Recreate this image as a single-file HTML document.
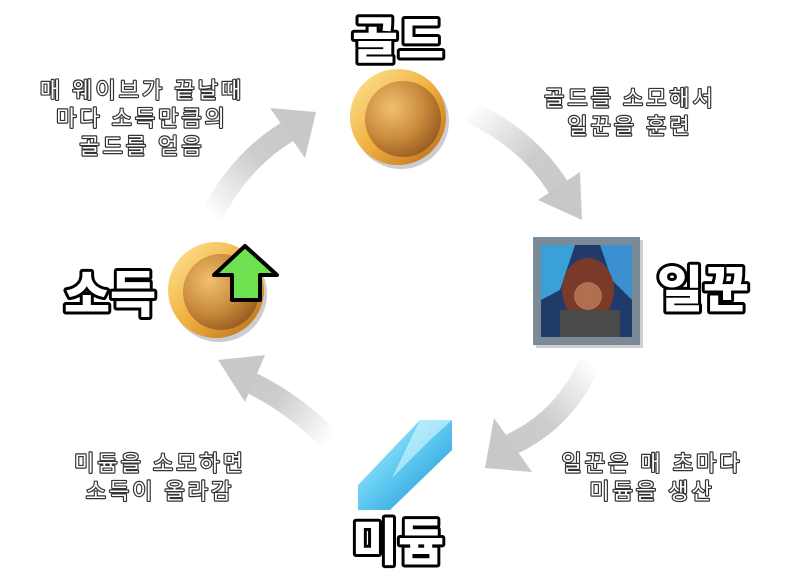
<!DOCTYPE html>
<html><head><meta charset="utf-8"><style>
html,body{margin:0;padding:0;background:#fff;}
svg{display:block;}
.big{font-family:"Liberation Sans","Noto Sans CJK KR",sans-serif;font-weight:900;font-size:50px;fill:#fff;stroke:#000;stroke-width:6px;paint-order:stroke;stroke-linejoin:round;text-anchor:middle;}
.sm{font-family:"Liberation Sans","Noto Sans CJK KR",sans-serif;font-weight:400;font-size:22px;letter-spacing:3px;fill:#fff;stroke:#333;stroke-width:2.4px;paint-order:stroke;stroke-linejoin:round;text-anchor:middle;}
</style></head><body>
<svg width="800" height="579" viewBox="0 0 800 579">
<defs>
<radialGradient id="coin" cx="0.35" cy="0.35" r="0.7">
<stop offset="0" stop-color="#f0c070"/><stop offset="0.6" stop-color="#c98a3c"/><stop offset="1" stop-color="#9a5e22"/></radialGradient>
<linearGradient id="rim" x1="0" y1="0" x2="1" y2="1"><stop offset="0" stop-color="#ffe89a"/><stop offset="0.5" stop-color="#f0b040"/><stop offset="1" stop-color="#b86a18"/></linearGradient>
<linearGradient id="a1" x1="210" y1="215" x2="316" y2="110" gradientUnits="userSpaceOnUse"><stop offset="0" stop-color="#ccc" stop-opacity="0"/><stop offset="0.5" stop-color="#ccc"/><stop offset="1" stop-color="#c8c8c8"/></linearGradient>
<linearGradient id="a2" x1="470" y1="110" x2="580" y2="220" gradientUnits="userSpaceOnUse"><stop offset="0" stop-color="#ccc" stop-opacity="0"/><stop offset="0.5" stop-color="#ccc"/><stop offset="1" stop-color="#c8c8c8"/></linearGradient>
<linearGradient id="a3" x1="590" y1="360" x2="485" y2="470" gradientUnits="userSpaceOnUse"><stop offset="0" stop-color="#ccc" stop-opacity="0"/><stop offset="0.5" stop-color="#ccc"/><stop offset="1" stop-color="#c8c8c8"/></linearGradient>
<linearGradient id="a4" x1="330" y1="440" x2="220" y2="360" gradientUnits="userSpaceOnUse"><stop offset="0" stop-color="#ccc" stop-opacity="0"/><stop offset="0.5" stop-color="#ccc"/><stop offset="1" stop-color="#c8c8c8"/></linearGradient>
<linearGradient id="cry" x1="0" y1="0" x2="1" y2="1"><stop offset="0" stop-color="#bff4ff"/><stop offset="0.5" stop-color="#5cc8f0"/><stop offset="1" stop-color="#1a8ad0"/></linearGradient>
</defs>
<path d="M212 215 Q240 160 290 130" stroke="url(#a1)" stroke-width="22" fill="none"/>
<polygon points="270,108 316,112 305,158" fill="#c8c8c8"/>
<path d="M470 112 Q530 140 560 190" stroke="url(#a2)" stroke-width="22" fill="none"/>
<polygon points="538,200 582,220 580,172" fill="#c8c8c8"/>
<path d="M590 362 Q565 420 510 445" stroke="url(#a3)" stroke-width="22" fill="none"/>
<polygon points="494,418 485,468 532,472" fill="#c8c8c8"/>
<path d="M330 440 Q290 400 245 380" stroke="url(#a4)" stroke-width="22" fill="none"/>
<polygon points="265,355 218,360 245,402" fill="#c8c8c8"/>
<circle cx="401" cy="121" r="48" fill="#556" opacity="0.3"/>
<circle cx="398" cy="117" r="48" fill="url(#rim)"/>
<circle cx="403" cy="119" r="38" fill="url(#coin)"/>
<circle cx="219" cy="294" r="48" fill="#556" opacity="0.3"/>
<circle cx="216" cy="290" r="48" fill="url(#rim)"/>
<circle cx="221" cy="292" r="38" fill="url(#coin)"/>
<polygon points="245,246 277,275 260,275 260,300 232,300 232,275 214,275" fill="#6fe050" stroke="#000" stroke-width="4" stroke-linejoin="round"/>
<rect x="536" y="240" width="107" height="108" fill="#888" opacity="0.4"/>
<rect x="533" y="237" width="107" height="108" fill="#7a8a96"/>
<rect x="541" y="245" width="91" height="92" fill="#203a6a"/>
<polygon points="541,245 575,245 560,290 541,300" fill="#3aa0d8"/>
<polygon points="600,245 632,245 632,300 612,280" fill="#3a90d0"/>
<ellipse cx="588" cy="290" rx="26" ry="32" fill="#7a3a2a"/>
<ellipse cx="588" cy="296" rx="14" ry="14" fill="#b07050"/>
<rect x="560" y="310" width="60" height="27" fill="#4a4a4a"/>
<polygon points="358,485 420,420 452,420 452,450 390,510 358,510" fill="url(#cry)"/>
<polygon points="420,420 452,420 430,440 392,478" fill="#d8f8ff" opacity="0.6"/>
<text class="big" x="398" y="58">골드</text>
<text class="big" x="703" y="307">일꾼</text>
<text class="big" x="398" y="560">미듐</text>
<text class="big" x="110" y="312">소득</text>
<text class="sm" x="142" y="98">매 웨이브가 끝날때</text>
<text class="sm" x="142" y="126">마다 소득만큼의</text>
<text class="sm" x="142" y="154">골드를 얻음</text>
<text class="sm" x="630" y="106">골드를 소모해서</text>
<text class="sm" x="630" y="134">일꾼을 훈련</text>
<text class="sm" x="652" y="471">일꾼은 매 초마다</text>
<text class="sm" x="652" y="499">미듐을 생산</text>
<text class="sm" x="160" y="471">미듐을 소모하면</text>
<text class="sm" x="160" y="499">소득이 올라감</text>
</svg>
</body></html>
